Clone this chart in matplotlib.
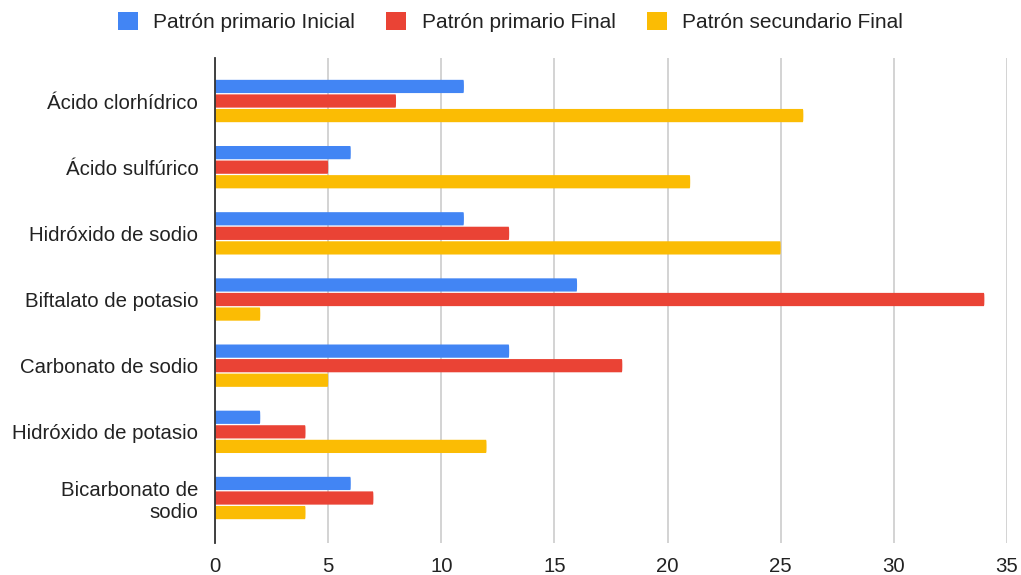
import matplotlib
matplotlib.use("Agg")
import matplotlib.pyplot as plt
from matplotlib.patches import Patch, FancyBboxPatch
import numpy as np

plt.rcParams['font.family'] = ['Liberation Sans', 'DejaVu Sans']

categories = ["Ácido clorhídrico", "Ácido sulfúrico", "Hidróxido de sodio",
              "Biftalato de potasio", "Carbonato de sodio",
              "Hidróxido de potasio", "Bicarbonato de\nsodio"]
series_names = ["Patrón primario Inicial", "Patrón primario Final",
                "Patrón secundario Final"]
primario_inicial = [11, 6, 11, 16, 13, 2, 6]
primario_final = [8, 5, 13, 34, 18, 4, 7]
secundario_final = [26, 21, 25, 2, 5, 12, 4]
x_ticks = [0, 5, 10, 15, 20, 25, 30, 35]

colors = ["#4285F4", "#EA4335", "#FBBC04"]
series = [primario_inicial, primario_final, secundario_final]

fig = plt.figure(figsize=(10.21, 5.75), dpi=100)
ax = fig.add_axes([215 / 1021, 1 - 543 / 575, (1007 - 215) / 1021, (543 - 58) / 575])

y = np.arange(len(categories))
offsets = [-0.22, 0.0, 0.22]
bar_h = 0.2
for vals, off, col in zip(series, offsets, colors):
    bars = ax.barh(y + off, vals, height=bar_h, color=col)
    # swap each bar for a slightly rounded box of the same geometry
    for b in bars:
        b.set_visible(False)
        x0, y0 = b.get_x(), b.get_y()
        w, h = b.get_width(), b.get_height()
        ax.add_patch(FancyBboxPatch((x0, y0), w, h,
                                    boxstyle="round,pad=0,rounding_size=0.02",
                                    mutation_aspect=4.0,
                                    facecolor=col, edgecolor='none', zorder=3))

ax.set_xlim(0, 35)
ax.set_ylim(6.68, -0.65)
ax.set_xticks(x_ticks)
ax.set_xticklabels([str(t) for t in x_ticks])
ax.set_yticks(y)
ax.set_yticklabels(categories, ha='right', multialignment='right')

ax.tick_params(axis='both', length=0, labelsize=14.7, colors='#222222')
ax.tick_params(axis='y', pad=12)
ax.tick_params(axis='x', pad=10)
ax.xaxis.grid(True, color='#CCCCCC', linewidth=1.2)
ax.set_axisbelow(True)
for s in ['top', 'right', 'bottom']:
    ax.spines[s].set_visible(False)
ax.spines['left'].set_color('#333333')
ax.spines['left'].set_linewidth(1.3)
ax.spines['left'].set_zorder(4)

handles = [Patch(facecolor=c, edgecolor='none', label=n) for c, n in zip(colors, series_names)]
fig.legend(handles=handles, loc='center', bbox_to_anchor=(0.5, 1 - 22 / 575), ncol=3,
           frameon=False, fontsize=15, handlelength=0.95, handleheight=1.0,
           handletextpad=0.75, columnspacing=1.5, labelcolor='#222222')

fig.savefig("out.png", dpi=100)
